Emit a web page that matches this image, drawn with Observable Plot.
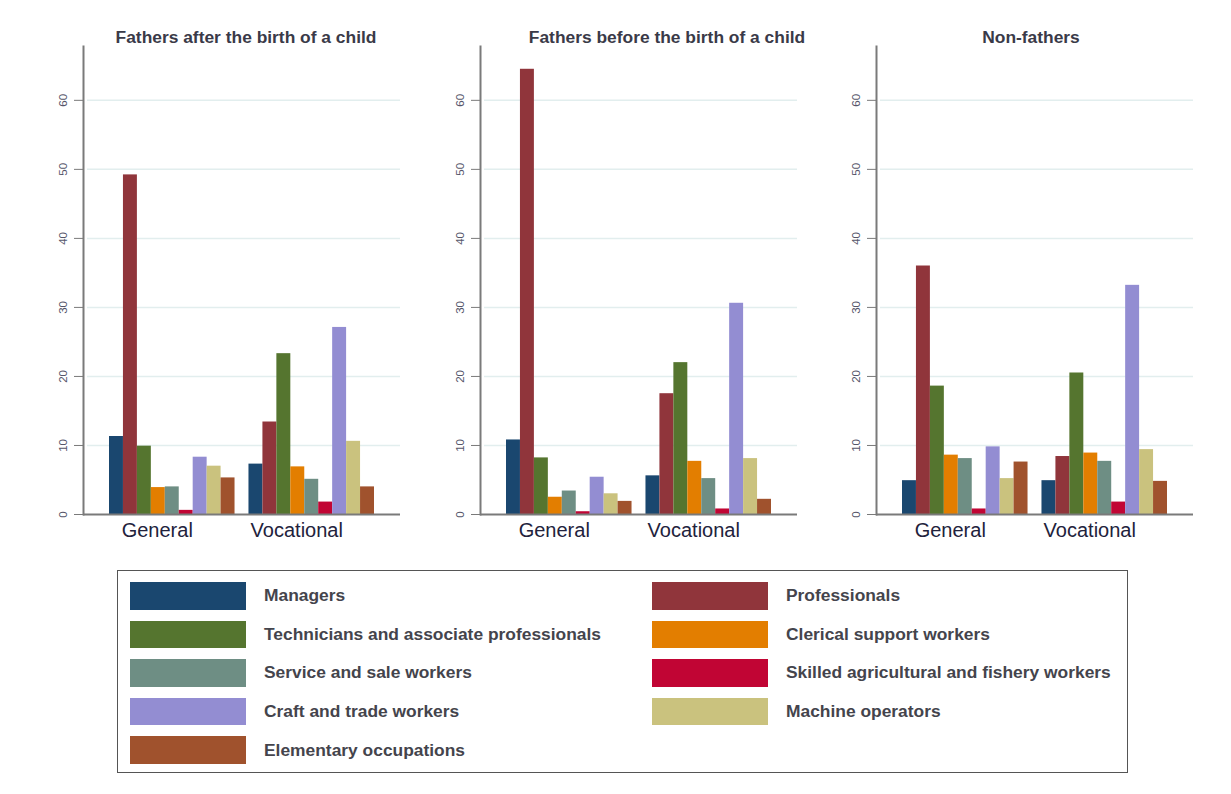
<!DOCTYPE html>
<html>
<head>
<meta charset="utf-8">
<script src="https://cdn.jsdelivr.net/npm/d3@7"></script>
<script src="https://cdn.jsdelivr.net/npm/@observablehq/plot@0.6"></script>
<style>
  html, body { margin: 0; padding: 0; background: #fff; }
  #chart { position: relative; width: 1231px; height: 794px; font-family: "Liberation Sans", Arial, sans-serif; }
  .panel { position: absolute; top: 0; }
  .ptitle { position: absolute; top: 27px; transform: translateX(-50%); white-space: nowrap;
            font-size: 17.4px; font-weight: bold; color: #3a3a48; line-height: 20px; }
  #legend { position: absolute; left: 117px; top: 570px; width: 1011px; height: 203px;
            border: 1.5px solid #555; box-sizing: border-box; padding: 11px 0 0 12px;
            display: grid; grid-template-columns: 522px 1fr; grid-auto-rows: 27.5px; row-gap: 11.1px; }
  .item { display: flex; align-items: center; }
  .sw { width: 116px; height: 27.5px; flex: none; }
  .lab { margin-left: 18px; font-size: 17.4px; font-weight: bold; color: #44444c; white-space: nowrap; }
</style>
</head>
<body>
<div id="chart"></div>
<script>
// Occupation groups and their bar colours
const occupations = [
  "Managers",
  "Professionals",
  "Technicians and associate professionals",
  "Clerical support workers",
  "Service and sale workers",
  "Skilled agricultural and fishery workers",
  "Craft and trade workers",
  "Machine operators",
  "Elementary occupations"
];
const colors = ["#1a476f", "#90353b", "#55752f", "#e37e00", "#6e8e84", "#c10534", "#938dd2", "#cac27e", "#a0522d"];

// Type of education (x categories within each panel)
const levels = ["General", "Vocational"];

// Panel titles
const panelTitles = ["Fathers after the birth of a child", "Fathers before the birth of a child", "Non-fathers"];

// Shares (%) per occupation, in the order of `occupations`
const afterGeneral     = [11.3, 49.2,  9.9, 3.9, 4.0, 0.6,  8.3,  7.0, 5.3];
const afterVocational  = [ 7.3, 13.4, 23.3, 6.9, 5.1, 1.8, 27.1, 10.6, 4.0];
const beforeGeneral    = [10.8, 64.5,  8.2, 2.5, 3.4, 0.4,  5.4,  3.0, 1.9];
const beforeVocational = [ 5.6, 17.5, 22.0, 7.7, 5.2, 0.8, 30.6,  8.1, 2.2];
const nonGeneral       = [ 4.9, 36.0, 18.6, 8.6, 8.1, 0.8,  9.8,  5.2, 7.6];
const nonVocational    = [ 4.9,  8.4, 20.5, 8.9, 7.7, 1.8, 33.2,  9.4, 4.8];

// Y axis ticks
const yTicks = [0, 10, 20, 30, 40, 50, 60];
const gridTicks = [10, 20, 30, 40, 50, 60];

const panelSeries = [
  [afterGeneral, afterVocational],
  [beforeGeneral, beforeVocational],
  [nonGeneral, nonVocational]
];

const key = (level, occ) => `${level}|${occ}`;
// band domain: nine bars per level with a spacer between the two levels
const xDomain = [
  ...occupations.map(o => key(levels[0], o)),
  "spacer",
  ...occupations.map(o => key(levels[1], o))
];

const panelLeft = [0, 397, 793];
const titleCenter = [246, 667, 1031];

const chart = document.getElementById("chart");

panelSeries.forEach((series, p) => {
  const data = [];
  levels.forEach((level, li) => {
    occupations.forEach((occ, oi) => {
      data.push({level, occupation: occ, key: key(level, occ), value: series[li][oi]});
    });
  });

  const svg = Plot.plot({
    width: 400,
    height: 560,
    marginLeft: 83,
    marginRight: 0,
    marginTop: 46,
    marginBottom: 46,
    style: {fontFamily: "Liberation Sans, Arial, sans-serif", background: "transparent"},
    x: {type: "band", domain: xDomain, padding: 0, round: false, insetLeft: 26, insetRight: 26, axis: null},
    y: {domain: [0, 67.8], axis: null},
    color: {domain: occupations, range: colors},
    marks: [
      Plot.ruleY(gridTicks, {stroke: "#e2eeee", strokeWidth: 1.5, insetLeft: 4}),
      Plot.barY(data, {x: "key", y: "value", fill: "occupation"}),
      Plot.ruleY([0], {stroke: "#7a7a7a", strokeWidth: 2}),
      Plot.frame({anchor: "left", stroke: "#7a7a7a", strokeWidth: 2}),
      Plot.axisY({ticks: yTicks, tickSize: 9, tickPadding: 8, tickRotate: -90, fontSize: 11.5,
                  color: "#55556a", stroke: "#7a7a7a", label: null}),
      Plot.text(levels, {x: l => key(l, occupations[4]), frameAnchor: "bottom", dy: 22, dx: -15,
                         text: d => d, fontSize: 20, fill: "#22223c"})
    ]
  });
  svg.classList.add("panel");
  svg.style.left = panelLeft[p] + "px";
  chart.appendChild(svg);

  const t = document.createElement("div");
  t.className = "ptitle";
  t.style.left = titleCenter[p] + "px";
  t.textContent = panelTitles[p];
  chart.appendChild(t);
});

// Legend: two columns, filled row by row
const legend = document.createElement("div");
legend.id = "legend";
occupations.forEach((occ, i) => {
  const item = document.createElement("div");
  item.className = "item";
  const sw = document.createElement("div");
  sw.className = "sw";
  sw.style.background = colors[i];
  const lab = document.createElement("span");
  lab.className = "lab";
  lab.textContent = occ;
  item.appendChild(sw);
  item.appendChild(lab);
  legend.appendChild(item);
});
chart.appendChild(legend);
</script>
</body>
</html>
